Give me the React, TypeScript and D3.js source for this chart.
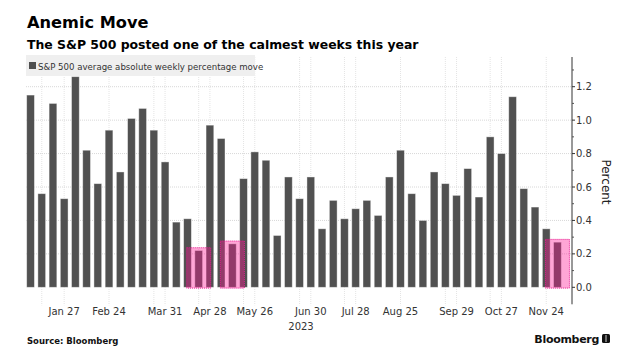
import React, { useEffect, useRef } from 'react';
import * as d3 from 'd3';

// weekly S&P 500 average absolute percentage move, 2023
const weeks = [
  '2023-01-06', '2023-01-13', '2023-01-20', '2023-01-27',
  '2023-02-03', '2023-02-10', '2023-02-17', '2023-02-24',
  '2023-03-03', '2023-03-10', '2023-03-17', '2023-03-24', '2023-03-31',
  '2023-04-07', '2023-04-14', '2023-04-21', '2023-04-28',
  '2023-05-05', '2023-05-12', '2023-05-19', '2023-05-26',
  '2023-06-02', '2023-06-09', '2023-06-16', '2023-06-23', '2023-06-30',
  '2023-07-07', '2023-07-14', '2023-07-21', '2023-07-28',
  '2023-08-04', '2023-08-11', '2023-08-18', '2023-08-25',
  '2023-09-01', '2023-09-08', '2023-09-15', '2023-09-22', '2023-09-29',
  '2023-10-06', '2023-10-13', '2023-10-20', '2023-10-27',
  '2023-11-03', '2023-11-10', '2023-11-17', '2023-11-24',
  '2023-12-01',
];

const avgMove = [
  1.15, 0.56, 1.10, 0.53, 1.26, 0.82, 0.62, 0.94, 0.69, 1.01,
  1.07, 0.94, 0.75, 0.39, 0.41, 0.22, 0.97, 0.89, 0.26, 0.65,
  0.81, 0.76, 0.31, 0.66, 0.53, 0.66, 0.35, 0.52, 0.41, 0.47,
  0.52, 0.43, 0.66, 0.82, 0.56, 0.40, 0.69, 0.62, 0.55, 0.71,
  0.54, 0.90, 0.80, 1.14, 0.59, 0.48, 0.35, 0.27,
];

const tickWeeks = [
  '2023-01-27', '2023-02-24', '2023-03-31', '2023-04-28', '2023-05-26', '2023-06-30',
  '2023-07-28', '2023-08-25', '2023-09-29', '2023-10-27', '2023-11-24',
];
const tickLabels = [
  'Jan 27', 'Feb 24', 'Mar 31', 'Apr 28', 'May 26', 'Jun 30',
  'Jul 28', 'Aug 25', 'Sep 29', 'Oct 27', 'Nov 24',
];
const extraGridWeeks = [
  '2023-01-13', '2023-03-24', '2023-04-21', '2023-05-19', '2023-06-23',
  '2023-07-21', '2023-09-22', '2023-10-20',
];
const highlighted = ['2023-04-21', '2023-05-12', '2023-12-01'];
const yTicks = [0, 0.2, 0.4, 0.6, 0.8, 1.0, 1.2];
const yMinorTicks = [0.1, 0.3, 0.5, 0.7, 0.9, 1.1, 1.3];

const width = 643;
const height = 362;
const plotLeft = 26;
const plotRight = 572;
const plotTop = 57;
const baseline = 287.3;
const font = '"DejaVu Sans", Verdana, sans-serif';

export default function App() {
  const ref = useRef(null);

  useEffect(() => {
    document.body.style.margin = '0';
    const data = weeks.map((w, i) => ({ week: w, value: avgMove[i] }));

    const x = d3.scaleBand()
      .domain(weeks)
      .range([25, 563])
      .paddingInner(0.31)
      .paddingOuter(0.15);

    const y = d3.scaleLinear()
      .domain([0, 1.2])
      .range([baseline, 86.7]);

    const svg = d3.select(ref.current)
      .attr('width', width)
      .attr('height', height)
      .style('font-family', font);
    svg.selectAll('*').remove();

    svg.append('rect').attr('width', width).attr('height', height).attr('fill', '#fff');

    // titles
    svg.append('text').attr('x', 27).attr('y', 28)
      .attr('font-size', 16.2).attr('font-weight', 'bold').attr('fill', '#000')
      .text('Anemic Move');
    svg.append('text').attr('x', 27).attr('y', 49)
      .attr('font-size', 12.45).attr('font-weight', 'bold').attr('fill', '#000')
      .text('The S&P 500 posted one of the calmest weeks this year');

    const cx = (w) => x(w) + x.bandwidth() / 2;

    // grid
    svg.append('g')
      .selectAll('line')
      .data(tickWeeks.concat(extraGridWeeks))
      .join('line')
      .attr('x1', d => cx(d)).attr('x2', d => cx(d))
      .attr('y1', plotTop).attr('y2', baseline + 18)
      .attr('stroke', '#e4e4e4').attr('stroke-width', 1)
      .attr('stroke-dasharray', '1,1');

    svg.append('g')
      .selectAll('line')
      .data(yTicks.slice(1))
      .join('line')
      .attr('x1', plotLeft).attr('x2', plotRight)
      .attr('y1', d => y(d)).attr('y2', d => y(d))
      .attr('stroke', '#d8d8d8').attr('stroke-width', 1)
      .attr('stroke-dasharray', '1,1');

    // legend
    const legend = svg.append('g').attr('transform', 'translate(26,55)');
    legend.append('rect').attr('width', 229).attr('height', 21).attr('fill', '#efefef');
    legend.append('rect').attr('x', 3).attr('y', 7).attr('width', 7).attr('height', 7).attr('fill', '#4f4f4f');
    legend.append('text').attr('x', 12).attr('y', 14.5)
      .attr('font-size', 8.6).attr('fill', '#333')
      .text('S&P 500 average absolute weekly percentage move');

    // bars
    svg.append('g')
      .selectAll('rect')
      .data(data)
      .join('rect')
      .attr('x', d => x(d.week))
      .attr('width', x.bandwidth())
      .attr('y', d => y(d.value))
      .attr('height', d => y(0) - y(d.value))
      .attr('fill', '#515151')
      .attr('stroke', '#fff')
      .attr('stroke-opacity', 0.5)
      .attr('stroke-width', 0.8);

    // highlight boxes
    const hl = data.filter(d => highlighted.includes(d.week));
    svg.append('g')
      .selectAll('rect')
      .data(hl)
      .join('rect')
      .attr('x', d => cx(d.week) - 12)
      .attr('width', 24)
      .attr('y', d => y(d.value) - 2.8)
      .attr('height', d => y(0) - y(d.value) + 3.6)
      .attr('fill', '#ff1493')
      .attr('fill-opacity', 0.38)
      .attr('stroke', '#e8168e')
      .attr('stroke-width', 1)
      .attr('stroke-dasharray', '1,1');

    // right axis
    const axis = svg.append('g');
    axis.append('line')
      .attr('x1', plotRight).attr('x2', plotRight)
      .attr('y1', plotTop).attr('y2', baseline + 17)
      .attr('stroke', '#333').attr('stroke-width', 1);
    axis.selectAll('line.major')
      .data(yTicks)
      .join('line')
      .attr('class', 'major')
      .attr('x1', plotRight).attr('x2', plotRight + 3)
      .attr('y1', d => y(d)).attr('y2', d => y(d))
      .attr('stroke', '#333');
    axis.selectAll('line.minor')
      .data(yMinorTicks)
      .join('line')
      .attr('class', 'minor')
      .attr('x1', plotRight).attr('x2', plotRight + 2)
      .attr('y1', d => y(d)).attr('y2', d => y(d))
      .attr('stroke', '#555');
    axis.selectAll('text')
      .data(yTicks)
      .join('text')
      .attr('x', plotRight + 4)
      .attr('y', d => y(d))
      .attr('dy', '0.35em')
      .attr('font-size', 10)
      .attr('fill', '#333')
      .text(d => d3.format('.1f')(d));

    svg.append('text')
      .attr('transform', `translate(602,182) rotate(90)`)
      .attr('text-anchor', 'middle')
      .attr('font-size', 12)
      .attr('fill', '#222')
      .text('Percent');

    // x labels
    svg.append('g')
      .selectAll('text')
      .data(tickWeeks)
      .join('text')
      .attr('x', d => cx(d))
      .attr('y', 315)
      .attr('text-anchor', 'middle')
      .attr('font-size', 10)
      .attr('fill', '#333')
      .text((d, i) => tickLabels[i]);
    svg.append('text')
      .attr('x', (plotLeft + plotRight) / 2 + 2)
      .attr('y', 330)
      .attr('text-anchor', 'middle')
      .attr('font-size', 10)
      .attr('fill', '#333')
      .text('2023');

    // footer
    svg.append('text').attr('x', 27).attr('y', 344)
      .attr('font-size', 8.5).attr('font-weight', 'bold').attr('fill', '#111')
      .text('Source: Bloomberg');
    svg.append('text').attr('x', 599).attr('y', 343)
      .attr('text-anchor', 'end')
      .attr('font-size', 11).attr('font-weight', 'bold').attr('fill', '#111')
      .attr('letter-spacing', -0.3)
      .text('Bloomberg');
    svg.append('rect').attr('x', 602).attr('y', 334).attr('width', 8).attr('height', 9)
      .attr('rx', 1.5).attr('fill', '#111');
    svg.append('line').attr('x1', 606).attr('x2', 606).attr('y1', 335).attr('y2', 342)
      .attr('stroke', '#fff').attr('stroke-width', 0.8);
  }, []);

  return (
    <div>
      <svg ref={ref} style={{ display: 'block' }}></svg>
    </div>
  );
}
